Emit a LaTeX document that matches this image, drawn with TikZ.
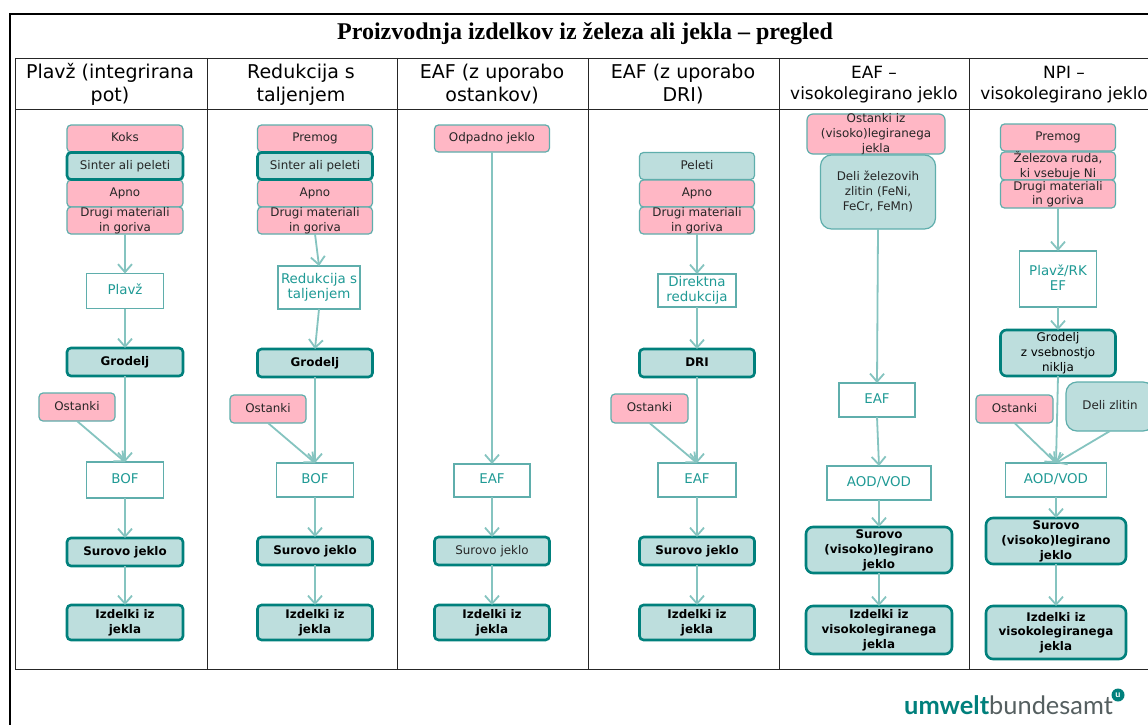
\documentclass[tikz,border=0pt]{standalone}
\usepackage{fontspec}
\setmainfont{DejaVu Sans}
\newfontfamily\titlefont{Liberation Serif}
\newfontfamily\logobold{Lato}
\usetikzlibrary{arrows.meta}
\definecolor{tealdark}{HTML}{00807C}
\definecolor{tealmid}{HTML}{5FAEAC}
\definecolor{teallight}{HTML}{BDDEDD}
\definecolor{tealline}{HTML}{85C4C0}
\definecolor{tealtext}{HTML}{1F9A95}
\definecolor{pinkfill}{HTML}{FFB7C5}
\definecolor{logogray}{HTML}{555F60}
\newcommand\tb[1]{\raisebox{-.6em}{\smash{\begin{tabular}[c]{@{}c@{}}#1\end{tabular}}}}
\tikzset{
  x=1pt,y=-1pt,
  boxbase/.style={inner sep=0pt,outer sep=0pt,rounded corners=4pt,text=black!85},
  pk/.style={boxbase,draw=tealmid,line width=1.2pt,fill=pinkfill,font=\fontsize{11.9}{14.6}\selectfont},
  tl/.style={boxbase,draw=tealdark,line width=2.6pt,fill=teallight,font=\fontsize{11.9}{14.6}\selectfont},
  tb/.style={tl,text=black,font=\fontsize{11.9}{14.6}\selectfont\bfseries},
  soft/.style={boxbase,draw=tealmid,line width=1.2pt,fill=teallight,rounded corners=11pt,font=\fontsize{11.9}{14.6}\selectfont},
  proc/.style={inner sep=0pt,outer sep=0pt,draw=tealmid,line width=1.1pt,fill=white,text=tealtext,font=\fontsize{13.4}{15}\selectfont},
  head/.style={inner sep=0pt,text=black,font=\fontsize{19}{23.5}\selectfont},
  headb/.style={inner sep=0pt,text=black,font=\fontsize{16.9}{20.5}\selectfont},
  link/.style={draw=tealline,line width=1.8pt,-{Straight Barb[length=8pt,width=14pt,line width=1.8pt]}},
  grid/.style={draw=black!85,line width=0.9pt}
}
\begin{document}
\begin{tikzpicture}
\useasboundingbox (0,0) rectangle (1148,725);
\fill[white] (0,0) rectangle (1148,725);
% frames
\draw[black,line width=2.4pt] (10,725) -- (10,14) -- (1148,14);
\draw[grid] (15,58) -- (1148,58);
\draw[grid] (15,109) -- (1148,109);
\draw[grid] (15,669) -- (1148,669);
\draw[grid] (15,58) -- (15,669);
\draw[grid] (207,58) -- (207,669);
\draw[grid] (397,58) -- (397,669);
\draw[grid] (588,58) -- (588,669);
\draw[grid] (779,58) -- (779,669);
\draw[grid] (969,58) -- (969,669);
\node[inner sep=0pt,font=\titlefont\fontsize{24}{27}\selectfont\bfseries] (title) at (585,34) {Proizvodnja izdelkov iz železa ali jekla – pregled};
% headers
\node[head] (h1) at (110,84) {\tb{Plavž (integrirana\\pot)}};
\node[head] (h2) at (301,84) {\tb{Redukcija s\\taljenjem}};
\node[head] (h3) at (492,84) {\tb{EAF (z uporabo\\ostankov)}};
\node[head] (h4) at (683,84) {\tb{EAF (z uporabo\\DRI)}};
\node[headb] (h5) at (874,84) {\tb{EAF –\\visokolegirano jeklo}};
\node[headb] (h6) at (1064,84) {\tb{NPI –\\visokolegirano jeklo}};
% column 1
\node[pk,minimum width=116,minimum height=27] (a1) at (125,138.5) {\tb{Koks}};
\node[pk,minimum width=116,minimum height=27] (a3) at (125,193.5) {\tb{Apno}};
\node[pk,minimum width=116,minimum height=27] (a4) at (125,220.5) {\tb{Drugi materiali\\in goriva}};
\node[tl,minimum width=116,minimum height=27] (a2) at (125,166) {\tb{Sinter ali peleti}};
\node[proc,minimum width=77,minimum height=35] (a5) at (125,291) {\tb{Plavž}};
\node[tb,minimum width=116,minimum height=28] (a6) at (125,362) {\tb{Grodelj}};
\node[pk,minimum width=76,minimum height=28] (a7) at (77,407) {\tb{Ostanki}};
\node[proc,minimum width=77,minimum height=36] (a8) at (125,480) {\tb{BOF}};
\node[tb,minimum width=116,minimum height=28] (a9) at (125,552) {\tb{Surovo jeklo}};
\node[tb,minimum width=116,minimum height=35] (a10) at (125,622.5) {\tb{Izdelki iz\\jekla}};
\draw[link] (a4.south) -- (a5.north);
\draw[link] (a5.south) -- (a6.north);
\draw[link] (a6.south) -- (a8.north);
\draw[link] (a7.south) -- (a8.north);
\draw[link] (a8.south) -- (a9.north);
\draw[link] (a9.south) -- (a10.north);
% column 2
\node[pk,minimum width=115,minimum height=27] (b1) at (315,138.5) {\tb{Premog}};
\node[pk,minimum width=115,minimum height=27] (b3) at (315,193.5) {\tb{Apno}};
\node[pk,minimum width=115,minimum height=27] (b4) at (315,220.5) {\tb{Drugi materiali\\in goriva}};
\node[tl,minimum width=115,minimum height=27] (b2) at (315,166) {\tb{Sinter ali peleti}};
\node[proc,minimum width=82,minimum height=43] (b5) at (319,287.5) {\tb{Redukcija s\\taljenjem}};
\node[tb,minimum width=115,minimum height=28] (b6) at (315,363) {\tb{Grodelj}};
\node[pk,minimum width=76,minimum height=28] (b7) at (268,409) {\tb{Ostanki}};
\node[proc,minimum width=77,minimum height=34] (b8) at (315,480) {\tb{BOF}};
\node[tb,minimum width=115,minimum height=28] (b9) at (315,551) {\tb{Surovo jeklo}};
\node[tb,minimum width=115,minimum height=35] (b10) at (315,622.5) {\tb{Izdelki iz\\jekla}};
\draw[link] (b4.south) -- (b5.north);
\draw[link] (b5.south) -- (b6.north);
\draw[link] (b6.south) -- (b8.north);
\draw[link] (b7.south) -- (b8.north);
\draw[link] (b8.south) -- (b9.north);
\draw[link] (b9.south) -- (b10.north);
% column 3
\node[pk,minimum width=115,minimum height=27] (c1) at (492,138.5) {\tb{Odpadno jeklo}};
\node[proc,minimum width=76,minimum height=33] (c2) at (492,480.5) {\tb{EAF}};
\node[tl,minimum width=115,minimum height=28] (c3) at (492,551) {\tb{Surovo jeklo}};
\node[tb,minimum width=115,minimum height=35] (c4) at (492,622.5) {\tb{Izdelki iz\\jekla}};
\draw[link] (c1.south) -- (c2.north);
\draw[link] (c2.south) -- (c3.north);
\draw[link] (c3.south) -- (c4.north);
% column 4
\node[soft,rounded corners=4pt,minimum width=115,minimum height=27] (d1) at (697,166) {\tb{Peleti}};
\node[pk,minimum width=115,minimum height=27] (d2) at (697,193.5) {\tb{Apno}};
\node[pk,minimum width=115,minimum height=27] (d3) at (697,220.5) {\tb{Drugi materiali\\in goriva}};
\node[proc,minimum width=78,minimum height=33] (d4) at (697,290.5) {\tb{Direktna\\redukcija}};
\node[tb,minimum width=115,minimum height=28] (d5) at (697,363) {\tb{DRI}};
\node[pk,minimum width=77,minimum height=29] (d6) at (649.5,408.5) {\tb{Ostanki}};
\node[proc,minimum width=78,minimum height=34] (d7) at (697,480) {\tb{EAF}};
\node[tb,minimum width=115,minimum height=28] (d8) at (697,551) {\tb{Surovo jeklo}};
\node[tb,minimum width=115,minimum height=35] (d9) at (697,622.5) {\tb{Izdelki iz\\jekla}};
\draw[link] (d3.south) -- (d4.north);
\draw[link] (d4.south) -- (d5.north);
\draw[link] (d5.south) -- (d7.north);
\draw[link] (d6.south) -- (d7.north);
\draw[link] (d7.south) -- (d8.north);
\draw[link] (d8.south) -- (d9.north);
% column 5
\node[pk,rounded corners=6pt,minimum width=138,minimum height=40] (e1) at (876,134) {\tb{Ostanki iz\\(visoko)legiranega\\jekla}};
\node[soft,minimum width=115,minimum height=74] (e2) at (878,192) {\tb{Deli železovih\\zlitin (FeNi,\\FeCr, FeMn)}};
\node[proc,minimum width=76,minimum height=34] (e3) at (877,400) {\tb{EAF}};
\node[proc,minimum width=104,minimum height=34] (e4) at (879,483) {\tb{AOD/VOD}};
\node[tb,rounded corners=7pt,minimum width=146,minimum height=46] (e5) at (879,550) {\tb{Surovo\\(visoko)legirano\\jeklo}};
\node[tb,rounded corners=7pt,minimum width=146,minimum height=48] (e6) at (879,630) {\tb{Izdelki iz\\visokolegiranega\\jekla}};
\draw[link] (e2.south) -- (e3.north);
\draw[link] (e3.south) -- (e4.north);
\draw[link] (e4.south) -- (e5.north);
\draw[link] (e5.south) -- (e6.north);
% column 6
\node[pk,minimum width=115,minimum height=27] (f1) at (1058,137.5) {\tb{Premog}};
\node[pk,minimum width=115,minimum height=28] (f2) at (1058,166) {\tb{Železova ruda,\\ki vsebuje Ni}};
\node[pk,minimum width=115,minimum height=28] (f3) at (1058,194) {\tb{Drugi materiali\\in goriva}};
\node[proc,minimum width=77,minimum height=56] (f4) at (1058,279) {\tb{Plavž/RK\\EF}};
\node[tb,rounded corners=6pt,minimum width=115,minimum height=46,font=\fontsize{11.9}{14.6}\selectfont] (f5) at (1058,353) {\tb{Grodelj\\z vsebnostjo\\niklja}};
\node[pk,minimum width=77,minimum height=28] (f6) at (1014.5,409) {\tb{Ostanki}};
\node[soft,minimum width=88,minimum height=49] (f7) at (1110,406.5) {\raisebox{2pt}{\tb{Deli zlitin}}};
\node[proc,minimum width=101,minimum height=34] (f8) at (1056,480) {\tb{AOD/VOD}};
\node[tb,rounded corners=7pt,minimum width=140,minimum height=46] (f9) at (1056,541) {\tb{Surovo\\(visoko)legirano\\jeklo}};
\node[tb,rounded corners=7pt,minimum width=140,minimum height=53] (f10) at (1056,632.5) {\tb{Izdelki iz\\visokolegiranega\\jekla}};
\draw[link] (f3.south) -- (f4.north);
\draw[link] (f4.south) -- (f5.north);
\draw[link] (f5.south) -- (f8.north);
\draw[link] (f6.south) -- (f8.north);
\draw[link] (f7.south) -- (f8.north);
\draw[link] (f8.south) -- (f9.north);
\draw[link] (f9.south) -- (f10.north);
% logo
\node[anchor=base west,inner sep=0pt,font=\fontsize{25.4}{30}\selectfont] (logo) at (904,714) {{\logobold\bfseries\color{tealdark}umwelt}{\logobold\color{logogray}bundesamt}};
\node[circle,fill=tealdark,minimum size=13pt,inner sep=0pt,text=white,font=\logobold\bfseries\fontsize{9}{9}\selectfont] (logou) at (1118,695) {u};
\end{tikzpicture}
\end{document}
